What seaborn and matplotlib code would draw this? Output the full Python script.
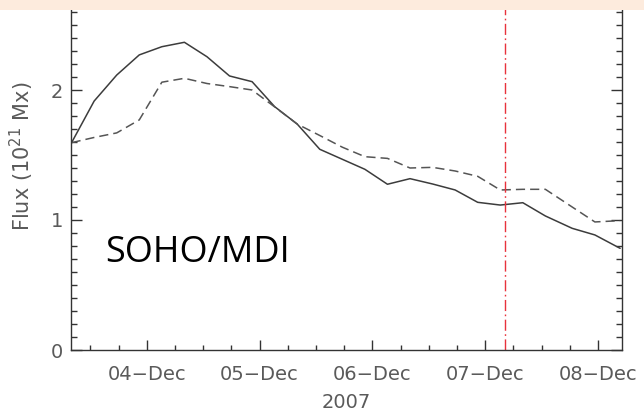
import matplotlib
matplotlib.use("Agg")
import matplotlib.pyplot as plt
import matplotlib.dates as mdates
from matplotlib.ticker import MultipleLocator, FixedLocator
from matplotlib.patches import Rectangle
import seaborn as sns
import pandas as pd

# ---- data ----
times = [
    "2007-12-03 08:00", "2007-12-03 12:48", "2007-12-03 17:36", "2007-12-03 22:24",
    "2007-12-04 03:12", "2007-12-04 08:00", "2007-12-04 12:48", "2007-12-04 17:36",
    "2007-12-04 22:24", "2007-12-05 03:12", "2007-12-05 08:00", "2007-12-05 12:48",
    "2007-12-05 17:36", "2007-12-05 22:24", "2007-12-06 03:12", "2007-12-06 08:00",
    "2007-12-06 12:48", "2007-12-06 17:36", "2007-12-06 22:24", "2007-12-07 03:12",
    "2007-12-07 08:00", "2007-12-07 12:48", "2007-12-07 18:30", "2007-12-07 23:20",
    "2007-12-08 04:42",
]
flux_solid = [1.595, 1.915, 2.115, 2.27, 2.333, 2.367, 2.256, 2.108, 2.064, 1.872,
              1.738, 1.544, 1.467, 1.39, 1.275, 1.318, 1.277, 1.231, 1.136, 1.115,
              1.133, 1.031, 0.936, 0.885, 0.782]
flux_dashed = [1.595, 1.635, 1.67, 1.77, 2.06, 2.09, 2.05, 2.026, 2.0, 1.87,
               1.738, 1.65, 1.56, 1.487, 1.474, 1.40, 1.405, 1.377, 1.336, 1.231,
               1.236, 1.236, 1.10, 0.985, 0.995]
y_ticks = [0, 1, 2]
event_time = "2007-12-07 04:13"
x_range = ("2007-12-03 07:55", "2007-12-08 05:06")
y_range = (0, 3)
y_label = "Flux (10$^{21}$ Mx)"
x_label = "2007"
annotation = "SOHO/MDI"

sns.set_style("white")
plt.rcParams["font.family"] = ["DejaVu Sans"]

W, H = 644, 412
fig = plt.figure(figsize=(W / 100, H / 100), dpi=100)
fig.patch.set_facecolor("white")

left_px, right_px, bottom_px = 71.2, 622.0, 350.0
px_per_unit = 130.0
top_px = bottom_px - px_per_unit * (y_range[1] - y_range[0])
ax = fig.add_axes([left_px / W, 1 - bottom_px / H,
                   (right_px - left_px) / W, (bottom_px - top_px) / H])

df = pd.DataFrame({"time": pd.to_datetime(times),
                   "solid": flux_solid, "dashed": flux_dashed})

sns.lineplot(data=df, x="time", y="solid", color="#3c3c3c", lw=1.1, ax=ax)
sns.lineplot(data=df, x="time", y="dashed", color="#555555", lw=1.1, ax=ax)
ax.lines[-1].set_dashes([6, 3.3])

ax.axvline(pd.Timestamp(event_time), color="#e8323c", lw=1.0,
           linestyle=(0, (8, 2.5, 1.2, 2.5)))

ax.set_xlim(pd.Timestamp(x_range[0]), pd.Timestamp(x_range[1]))
ax.set_ylim(*y_range)

ax.xaxis.set_major_locator(mdates.DayLocator())
ax.xaxis.set_minor_locator(mdates.HourLocator(byhour=[0, 6, 12, 18]))
ax.xaxis.set_major_formatter(mdates.DateFormatter("%d\u2212%b"))
ax.yaxis.set_major_locator(FixedLocator(y_ticks))
ax.yaxis.set_minor_locator(MultipleLocator(0.1))

tick_col = "#5a5a5a"
ax.tick_params(axis="both", which="both", direction="in", color="#333333",
               width=1.0, labelcolor=tick_col, right=True, top=False, left=True, bottom=True)
ax.tick_params(axis="y", which="major", length=8, labelsize=14, pad=6)
ax.tick_params(axis="y", which="minor", length=4.3)
ax.tick_params(axis="x", which="major", length=7, labelsize=14, pad=11)
ax.tick_params(axis="x", which="minor", length=3.6)

for s in ax.spines.values():
    s.set_color("#333333")
    s.set_linewidth(1.0)

ax.set_ylabel(y_label, color=tick_col, fontsize=15)
ax.yaxis.set_label_coords(-0.064, (bottom_px - 156) / (bottom_px - top_px))
ax.set_xlabel(x_label, color=tick_col, fontsize=14)
ax.xaxis.set_label_coords(0.5, (bottom_px - 393) / (bottom_px - top_px))

fig.text(105 / W, 1 - 253 / H, annotation, fontsize=26, family="Open Sans",
         color="black", ha="left", va="center")

fig.patches.append(Rectangle((0, 1 - 10 / H), 1, 10 / H, transform=fig.transFigure,
                             facecolor="#fdebdd", edgecolor="none", zorder=10))

fig.savefig("out.png", dpi=100)
